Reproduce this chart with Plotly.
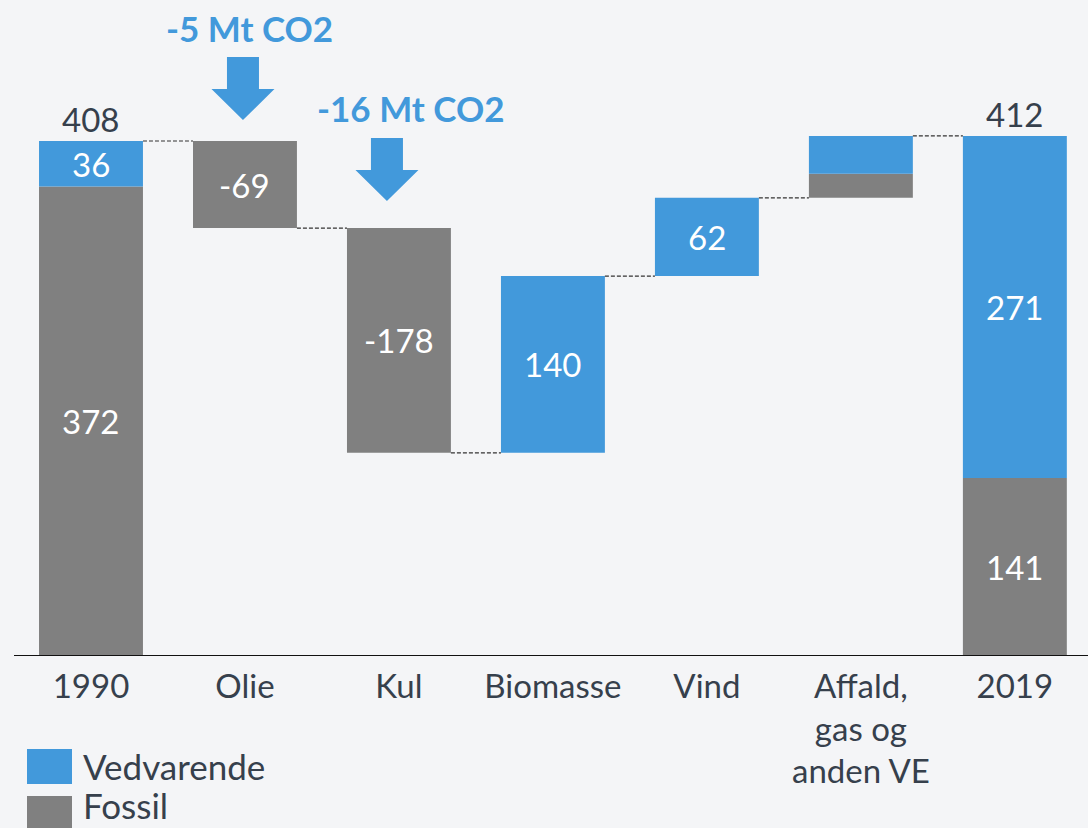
import plotly.graph_objects as go

categories = ["1990", "Olie", "Kul", "Biomasse", "Vind", "Affald,<br>gas og<br>anden VE", "2019"]
kinds = ["total", "delta", "delta", "delta", "delta", "delta", "total"]
fossil = [372, -69, -178, 0, 0, 19, 141]
renewable = [36, 0, 0, 140, 62, 30, 271]
show_labels = [True, True, True, True, True, False, True]
annot_texts = ["-5 Mt CO2", "-16 Mt CO2"]
annot_idx = [1, 2]
legend_names = ["Vedvarende", "Fossil"]

BLUE = "#4299db"
GRAY = "#808080"
BG = "#f4f5f7"
DARK = "#36404c"
FONT = "Lato"

W, H = 1088, 828
L = 14
BASE_Y = 656
PX_PER_UNIT = 515 / 408.0
PLOT_H = BASE_Y
PLOT_W = W - L

def py(ref_y):
    return (BASE_Y - ref_y) / PLOT_H

def px(ref_x):
    return (ref_x - L) / PLOT_W

fossil_base, renew_base, level_after = [], [], []
level = 0
for k, f, r in zip(kinds, fossil, renewable):
    if k == "total":
        fossil_base.append(0)
        renew_base.append(f)
        level = f + r
    else:
        fossil_base.append(level)
        level += f
        renew_base.append(level)
        level += r
    level_after.append(level)

fig = go.Figure()
fig.add_trace(go.Bar(x=categories, y=fossil, base=fossil_base, marker=dict(color=GRAY, line=dict(width=0)),
                     name="Fossil", showlegend=False, hoverinfo="skip"))
fig.add_trace(go.Bar(x=categories, y=renewable, base=renew_base, marker=dict(color=BLUE, line=dict(width=0)),
                     name="Vedvarende", showlegend=False, hoverinfo="skip"))

annotations = []
for i, c in enumerate(categories):
    if not show_labels[i]:
        continue
    for val, base in ((fossil[i], fossil_base[i]), (renewable[i], renew_base[i])):
        if val != 0:
            annotations.append(dict(x=i, y=base + val / 2, text=str(val), showarrow=False,
                                    font=dict(family=FONT, size=33, color="white"),
                                    xanchor="center", yanchor="middle"))
    if kinds[i] == "total":
        annotations.append(dict(x=i, y=level_after[i], text=str(level_after[i]), showarrow=False,
                                font=dict(family=FONT, size=33, color=DARK),
                                xanchor="center", yanchor="bottom", yshift=0))

shapes = []
half = 0.3375
for i in range(len(categories) - 1):
    lvl = level_after[i]
    shapes.append(dict(type="line", xref="x", yref="y", x0=i + half, x1=i + 1 - half, y0=lvl, y1=lvl,
                       line=dict(color="#333333", width=1.2, dash="4px,2px")))

text_y = [28, 108]
tip_y = [120, 201]
tail_y = [57, 138]
text_xshift = [5, 12]
arrow_xshift = [-2, -12]
for t, ci, ty, tp, tl, txs, axs in zip(annot_texts, annot_idx, text_y, tip_y, tail_y, text_xshift, arrow_xshift):
    annotations.append(dict(x=ci, y=py(ty), yref="paper", text="<b>%s</b>" % t, showarrow=False,
                            font=dict(family=FONT, size=35, color=BLUE), xanchor="center", yanchor="middle",
                            xshift=txs))
    total = tp - tl
    head = 31
    sw, hw = 16, 31.5
    path = ("M {a},{top} L {b},{top} L {b},{hb} L {c},{hb} L {x0},0 L {d},{hb} L {a},{hb} Z"
            .format(a=axs - sw, b=axs + sw, top=total, hb=head, c=axs + hw, d=axs - hw, x0=axs))
    shapes.append(dict(type="path", xref="x", yref="paper", xsizemode="pixel", ysizemode="pixel",
                       xanchor=ci, yanchor=py(tp), path=path, fillcolor=BLUE, line=dict(width=0)))

legend_colors = [BLUE, GRAY]
sq_top = [749, 796]
for name, col, top, i in zip(legend_names, legend_colors, sq_top, range(2)):
    shapes.append(dict(type="rect", xref="paper", yref="paper",
                       x0=px(27), x1=px(72), y0=py(top + 35), y1=py(top),
                       fillcolor=col, line=dict(width=0)))
    if i == 0:
        annotations.append(dict(x=px(81), y=py(766), xref="paper", yref="paper",
                                text=name, showarrow=False, xanchor="left", yanchor="middle",
                                font=dict(family=FONT, size=35, color=DARK)))
    else:
        annotations.append(dict(x=px(81), y=py(828), xref="paper", yref="paper",
                                text=name, showarrow=False, xanchor="left", yanchor="bottom",
                                font=dict(family=FONT, size=35, color=DARK)))

shapes.append(dict(type="line", xref="paper", yref="y", x0=0, x1=1, y0=0, y1=0,
                   line=dict(color="#111111", width=2)))

fig.update_layout(
    width=W, height=H,
    margin=dict(l=L, r=0, t=0, b=H - BASE_Y),
    paper_bgcolor=BG, plot_bgcolor=BG,
    barmode="overlay", bargap=0.325,
    showlegend=False,
    annotations=annotations, shapes=shapes,
    xaxis=dict(type="category", range=[-0.5, 6.475], showgrid=False, zeroline=False,
               showline=False, ticks="outside", ticklen=1, tickcolor="rgba(0,0,0,0)",
               tickfont=dict(family=FONT, size=33, color=DARK)),
    yaxis=dict(range=[0, PLOT_H / PX_PER_UNIT], visible=False, showgrid=False, zeroline=False),
)

fig.write_html("out.html", config={"displayModeBar": False},
               post_script="document.body.style.margin='0px';document.body.style.overflow='hidden';")
